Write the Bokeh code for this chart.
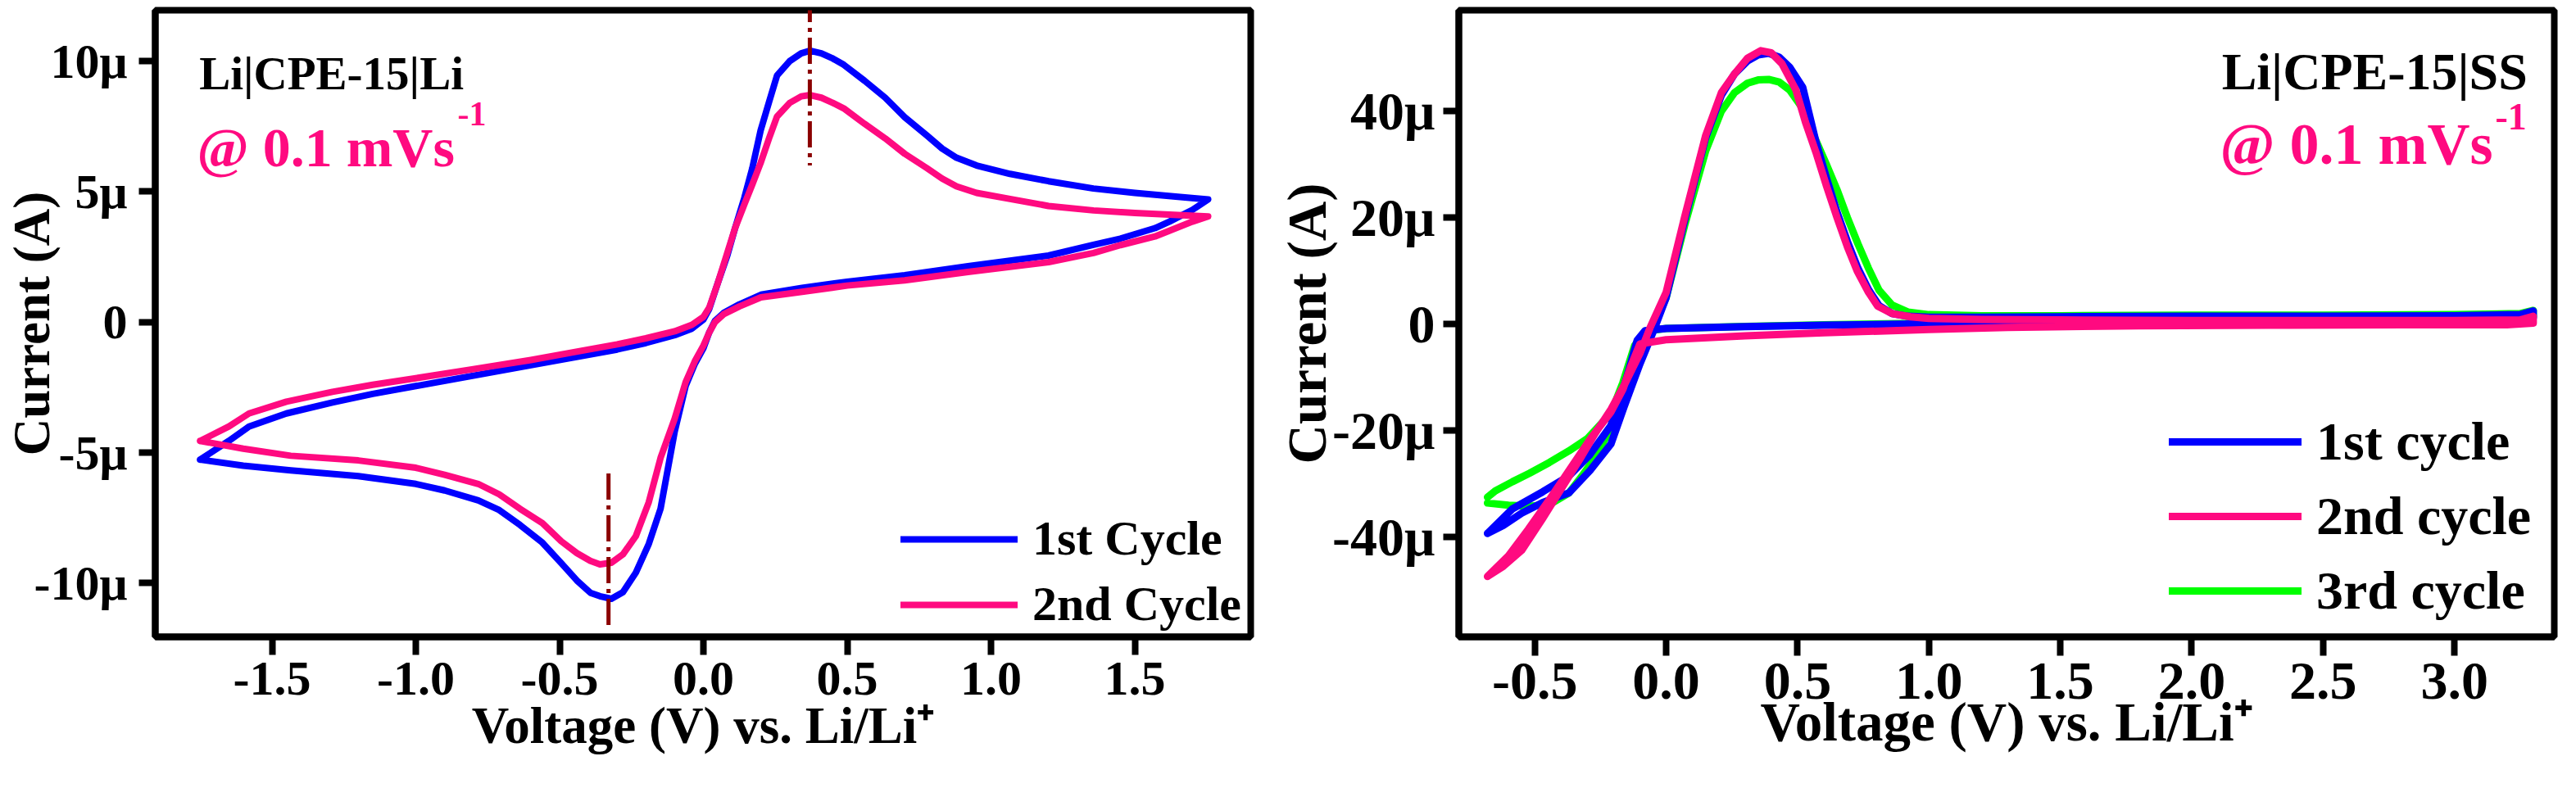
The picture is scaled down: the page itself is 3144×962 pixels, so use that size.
from bokeh.plotting import figure
from bokeh.models import Range1d, FixedTicker, Legend, LegendItem, Label
from bokeh.layouts import row
from bokeh.embed import file_html
from bokeh.resources import INLINE

FONT = "Liberation Serif"
BLUE = "#0000FF"
PINK = "#FF0A80"
GREEN = "#00FF00"
MAROON = "#8B0000"

# ---------------- Left panel: Li|CPE-15|Li (current in µA) ----------------
left_branch_up_V = [-1.75, -1.65, -1.58, -1.45, -1.29, -1.15, -1.0, -0.8, -0.6, -0.45, -0.3, -0.2, -0.1, -0.04,
                    0.0, 0.02, 0.05, 0.083, 0.11, 0.142, 0.17, 0.199, 0.23, 0.256, 0.30, 0.34, 0.371, 0.41, 0.45,
                    0.488, 0.56, 0.632, 0.70, 0.777, 0.83, 0.88, 0.95, 1.066, 1.2, 1.356, 1.5, 1.65, 1.755]
left_branch_down_V = [1.70, 1.62, 1.57, 1.45, 1.356, 1.2, 0.92, 0.7, 0.5, 0.343, 0.2, 0.125, 0.07, 0.04, 0.02, 0.0,
                      -0.03, -0.062, -0.1, -0.149, -0.19, -0.235, -0.28, -0.32, -0.36, -0.393, -0.44, -0.494, -0.56,
                      -0.638, -0.71, -0.783, -0.9, -1.0, -1.2, -1.435, -1.6, -1.75]

cycle1_up_I = [-5.27, -4.55, -4.0, -3.5, -3.08, -2.75, -2.45, -2.05, -1.65, -1.35, -1.05, -0.8, -0.5, -0.25,
               0.1, 0.5, 1.5, 2.55, 3.6, 4.75, 5.9, 7.35, 8.5, 9.45, 10.0, 10.3, 10.4, 10.3, 10.1,
               9.86, 9.25, 8.6, 7.85, 7.15, 6.65, 6.3, 6.0, 5.68, 5.4, 5.12, 4.95, 4.8, 4.7]
cycle1_down_I = [4.3, 3.85, 3.6, 3.2, 2.96, 2.55, 2.14, 1.8, 1.55, 1.31, 1.05, 0.68, 0.35, 0.05, -0.4, -1.0,
                 -1.6, -2.45, -4.2, -7.15, -8.5, -9.6, -10.35, -10.6, -10.5, -10.37, -9.9, -9.24, -8.45,
                 -7.77, -7.2, -6.83, -6.45, -6.2, -5.9, -5.68, -5.5, -5.27]

cycle2_up_I = [-4.55, -4.0, -3.5, -3.05, -2.67, -2.4, -2.15, -1.8, -1.45, -1.15, -0.85, -0.62, -0.35, -0.1,
               0.2, 0.55, 1.5, 2.65, 3.6, 4.5, 5.27, 6.1, 7.1, 7.88, 8.4, 8.65, 8.7, 8.6, 8.4,
               8.19, 7.6, 7.04, 6.45, 5.9, 5.5, 5.2, 4.95, 4.72, 4.45, 4.28, 4.18, 4.1, 4.05]
cycle2_down_I = [3.85, 3.5, 3.28, 2.95, 2.65, 2.3, 1.92, 1.6, 1.4, 1.16, 0.95, 0.6, 0.3, 0.0, -0.4, -0.9,
                 -1.5, -2.3, -3.7, -5.2, -6.9, -8.2, -8.9, -9.22, -9.28, -9.15, -8.85, -8.4, -7.7,
                 -7.15, -6.6, -6.2, -5.85, -5.58, -5.3, -5.12, -4.85, -4.55]

left_peak_V = [0.37, -0.33]
left_peak_top = [12.5, -5.8]
left_peak_bottom = [6.0, -11.7]

left_xticks = [-1.5, -1.0, -0.5, 0.0, 0.5, 1.0, 1.5]
left_xlabels = ["-1.5", "-1.0", "-0.5", "0.0", "0.5", "1.0", "1.5"]
left_yticks = [-10, -5, 0, 5, 10]
left_ylabels = ["-10\u03bc", "-5\u03bc", "0", "5\u03bc", "10\u03bc"]
left_series = ["1st Cycle", "2nd Cycle"]

# ---------------- Right panel: Li|CPE-15|SS (current in µA) ----------------
r1_fwd_V = [-0.68, -0.62, -0.55, -0.47, -0.37, -0.29, -0.21, -0.16, -0.10, -0.05, 0.0, 0.07, 0.15, 0.21, 0.26,
            0.31, 0.35, 0.39, 0.43, 0.47, 0.52, 0.57, 0.61, 0.65, 0.69, 0.73, 0.77, 0.81, 0.86, 0.92, 1.0,
            1.2, 1.5, 2.0, 2.5, 3.0, 3.25, 3.3]
r1_fwd_I = [-39.3, -37.8, -35.5, -33.5, -31.7, -27.5, -22.5, -15.5, -7.5, -1.5, 5.0, 19.5, 35.0, 43.0, 47.0,
            49.5, 50.6, 50.9, 50.2, 48.3, 44.5, 34.3, 27.5, 21.1, 15.5, 10.5, 6.5, 3.5, 2.0, 1.5, 1.3,
            1.3, 1.4, 1.5, 1.5, 1.6, 1.8, 2.5]
r1_rev_V = [3.3, 3.2, 2.8, 2.3, 1.8, 1.3, 1.0, 0.6, 0.3, 0.0, -0.08, -0.11, -0.15, -0.21, -0.29, -0.37,
            -0.47, -0.585, -0.68]
r1_rev_I = [1.2, 0.6, 0.6, 0.5, 0.4, 0.3, 0.1, -0.2, -0.45, -0.8, -1.2, -3.0, -10.0, -19.0, -24.5, -28.5,
            -31.5, -34.7, -39.3]

r2_fwd_V = [-0.68, -0.62, -0.55, -0.47, -0.40, -0.33, -0.27, -0.21, -0.155, -0.10, -0.06, 0.0, 0.07, 0.15,
            0.21, 0.26, 0.31, 0.36, 0.40, 0.44, 0.494, 0.53, 0.57, 0.61, 0.65, 0.69, 0.727, 0.77, 0.805,
            0.86, 0.93, 1.0, 1.2, 1.5, 2.0, 2.5, 3.0, 3.25, 3.3]
r2_fwd_I = [-47.4, -45.5, -42.5, -36.5, -31.0, -25.5, -20.5, -16.0, -11.0, -5.5, -0.5, 6.0, 20.1, 35.4,
            43.5, 47.0, 50.0, 51.4, 51.0, 49.0, 44.0, 38.0, 32.3, 26.0, 20.1, 14.5, 10.0, 6.0, 3.4,
            2.0, 1.4, 1.1, 0.9, 0.8, 0.7, 0.7, 0.7, 0.8, 1.5]
r2_rev_V = [3.3, 3.2, 2.8, 2.3, 1.8, 1.3, 1.0, 0.6, 0.3, 0.0, -0.1, -0.135, -0.165, -0.21, -0.288, -0.37,
            -0.445, -0.524, -0.60, -0.68]
r2_rev_I = [0.2, -0.1, -0.1, -0.2, -0.3, -0.6, -1.0, -1.6, -2.2, -2.9, -3.7, -8.0, -12.3, -16.5, -21.5,
            -27.5, -33.0, -38.5, -43.5, -47.4]

r3_fwd_V = [-0.68, -0.60, -0.52, -0.445, -0.37, -0.32, -0.27, -0.21, -0.165, -0.10, -0.05, 0.0, 0.07, 0.15,
            0.21, 0.26, 0.31, 0.35, 0.39, 0.43, 0.47, 0.52, 0.57, 0.61, 0.65, 0.69, 0.73, 0.77, 0.81, 0.86,
            0.92, 1.0, 1.2, 1.5, 2.0, 2.5, 3.0, 3.25, 3.3]
r3_fwd_I = [-33.6, -34.0, -34.2, -33.9, -31.7, -28.5, -25.0, -19.5, -14.9, -6.5, -0.5, 5.0, 18.5, 32.5,
            40.0, 43.5, 45.3, 45.9, 46.0, 45.5, 44.0, 40.5, 34.5, 30.0, 25.3, 20.0, 15.1, 10.5, 6.4, 3.6,
            2.3, 1.8, 1.6, 1.6, 1.7, 1.7, 1.8, 2.0, 2.6]
r3_rev_V = [3.3, 3.2, 2.8, 2.3, 1.8, 1.3, 1.0, 0.6, 0.3, 0.0, -0.08, -0.12, -0.165, -0.21, -0.30, -0.37,
            -0.445, -0.52, -0.585, -0.65, -0.68]
r3_rev_I = [1.4, 0.9, 0.8, 0.7, 0.6, 0.4, 0.2, -0.1, -0.4, -0.8, -1.3, -4.0, -11.0, -16.7, -21.5, -23.8,
            -26.0, -28.0, -29.6, -31.3, -32.5]

right_xticks = [-0.5, 0.0, 0.5, 1.0, 1.5, 2.0, 2.5, 3.0]
right_xlabels = ["-0.5", "0.0", "0.5", "1.0", "1.5", "2.0", "2.5", "3.0"]
right_yticks = [-40, -20, 0, 20, 40]
right_ylabels = ["-40\u03bc", "-20\u03bc", "0", "20\u03bc", "40\u03bc"]
right_series = ["1st cycle", "2nd cycle", "3rd cycle"]

XTITLE = "Voltage (V) vs. Li/Li\u207a"
YTITLE = "Current (A)"


def make_fig(width, height, xr, yr, mb_left, mb_right, mb_top, mb_bottom):
    p = figure(width=width, height=height, x_range=Range1d(*xr), y_range=Range1d(*yr),
               output_backend="svg", toolbar_location=None,
               min_border_left=mb_left, min_border_right=mb_right,
               min_border_top=mb_top, min_border_bottom=mb_bottom)
    p.grid.visible = False
    p.outline_line_color = "black"
    p.outline_line_width = 8
    p.outline_line_alpha = 1.0
    p.background_fill_color = "white"
    p.border_fill_color = "white"
    return p


def style_axes(p, xticks, xlabels, yticks, ylabels, tick_fs, title_fs, x_tick_out, y_tick_out,
               x_lab_stand, y_lab_stand, x_title_stand, y_title_stand):
    p.xaxis.ticker = FixedTicker(ticks=xticks)
    p.xaxis.major_label_overrides = dict(zip(xticks, xlabels))
    p.yaxis.ticker = FixedTicker(ticks=yticks)
    p.yaxis.major_label_overrides = dict(zip(yticks, ylabels))
    for ax, tout, lst, tst, title in ((p.xaxis[0], x_tick_out, x_lab_stand, x_title_stand, XTITLE),
                                      (p.yaxis[0], y_tick_out, y_lab_stand, y_title_stand, YTITLE)):
        ax.axis_line_width = 8
        ax.axis_line_color = "black"
        ax.major_tick_line_width = 8
        ax.major_tick_line_color = "black"
        ax.major_tick_out = tout
        ax.major_tick_in = 0
        ax.minor_tick_line_color = None
        ax.major_label_text_font = FONT
        ax.major_label_text_font_style = "bold"
        ax.major_label_text_font_size = tick_fs
        ax.major_label_text_color = "black"
        ax.major_label_standoff = lst
        ax.axis_label = title
        ax.axis_label_text_font = FONT
        ax.axis_label_text_font_style = "bold"
        ax.axis_label_text_font_size = title_fs
        ax.axis_label_text_color = "black"
        ax.axis_label_standoff = tst


# ---------------- Left figure ----------------
p1 = make_fig(1555, 946, (-1.906, 1.903), (-12.06, 11.95), 183, 29, 12, 167)
style_axes(p1, left_xticks, left_xlabels, left_yticks, left_ylabels, "60px", "63px",
           22, 20, 9, 14, 0, -35)

rb = p1.line(left_branch_up_V + left_branch_down_V, cycle1_up_I + cycle1_down_I,
             line_color=BLUE, line_width=8, line_join="round", line_cap="round")
rp = p1.line(left_branch_up_V + left_branch_down_V, cycle2_up_I + cycle2_down_I,
             line_color=PINK, line_width=8, line_join="round", line_cap="round")
p1.segment(x0=left_peak_V, y0=left_peak_top, x1=left_peak_V, y1=left_peak_bottom,
           line_color=MAROON, line_width=5, line_dash="32 7 5 7")

leg1 = Legend(items=[LegendItem(label=left_series[0], renderers=[rb]),
                     LegendItem(label=left_series[1], renderers=[rp])],
              location=(910, 5), orientation="vertical", glyph_width=143, glyph_height=30,
              label_height=30, label_standoff=18, spacing=11, padding=0, margin=0,
              label_text_font=FONT, label_text_font_style="bold", label_text_font_size="60px",
              label_text_color="black", border_line_alpha=0, background_fill_alpha=0)
p1.add_layout(leg1)

p1.add_layout(Label(x=-1.753, y=9.54, text="Li|CPE-15|Li", text_font=FONT, text_font_style="bold",
                    text_font_size="57px", text_color="black", text_baseline="alphabetic"))
p1.add_layout(Label(x=-1.761, y=6.68, text="@ 0.1 mVs", text_font=FONT, text_font_style="bold",
                    text_font_size="68px", text_color=PINK, text_baseline="alphabetic"))
p1.add_layout(Label(x=-1.761, y=7.97, x_offset=318, text="-1", text_font=FONT, text_font_style="bold",
                    text_font_size="42px", text_color=PINK, text_baseline="alphabetic"))

# ---------------- Right figure ----------------
p2 = make_fig(1573, 946, (-0.789, 3.38), (-58.75, 59.0), 220, 11, 4, 169)
style_axes(p2, right_xticks, right_xlabels, right_yticks, right_ylabels, "66px", "67px",
           23, 19, 9, 10, -12, -9)

g3 = p2.line(r3_fwd_V + r3_rev_V, r3_fwd_I + r3_rev_I, line_color=GREEN, line_width=9,
             line_join="round", line_cap="round")
g1 = p2.line(r1_fwd_V + r1_rev_V, r1_fwd_I + r1_rev_I, line_color=BLUE, line_width=9,
             line_join="round", line_cap="round")
g2 = p2.line(r2_fwd_V + r2_rev_V, r2_fwd_I + r2_rev_I, line_color=PINK, line_width=9,
             line_join="round", line_cap="round")

leg2 = Legend(items=[LegendItem(label=right_series[0], renderers=[g1]),
                     LegendItem(label=right_series[1], renderers=[g2]),
                     LegendItem(label=right_series[2], renderers=[g3])],
              location=(867, 18), orientation="vertical", glyph_width=162, glyph_height=30,
              label_height=30, label_standoff=18, spacing=15, padding=0, margin=0,
              label_text_font=FONT, label_text_font_style="bold", label_text_font_size="66px",
              label_text_color="black", border_line_alpha=0, background_fill_alpha=0)
p2.add_layout(leg2)

p2.add_layout(Label(x=3.278, y=47.4, text="Li|CPE-15|SS", text_font=FONT, text_font_style="bold",
                    text_font_size="64px", text_color="black", text_align="right",
                    text_baseline="alphabetic"))
p2.add_layout(Label(x=3.146, y=33.9, text="@ 0.1 mVs", text_font=FONT, text_font_style="bold",
                    text_font_size="72px", text_color=PINK, text_align="right",
                    text_baseline="alphabetic"))
p2.add_layout(Label(x=3.146, y=39.0, x_offset=3, text="-1", text_font=FONT, text_font_style="bold",
                    text_font_size="46px", text_color=PINK, text_baseline="alphabetic"))

layout = row(p1, p2)
open("out.html", "w").write(file_html(layout, INLINE))
